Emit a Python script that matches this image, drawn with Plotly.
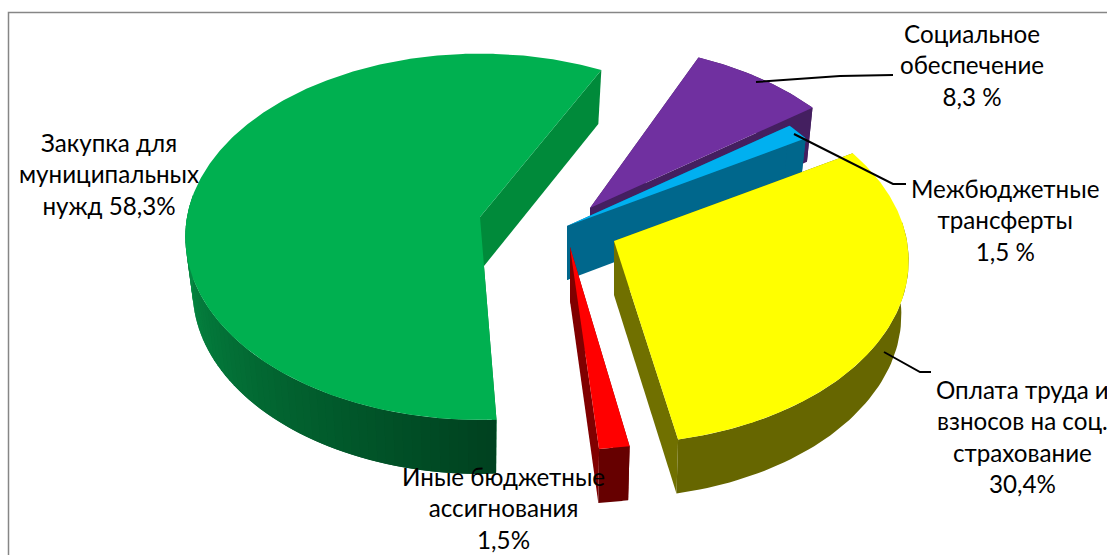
import numpy as np
import plotly.graph_objects as go

# ---- data ----
categories = ["Закупка для муниципальных нужд", "Социальное обеспечение", "Межбюджетные трансферты",
              "Оплата труда и взносов на соц. страхование", "Иные бюджетные ассигнования"]
values = [58.3, 8.3, 1.5, 30.4, 1.5]
label_texts = ["Закупка для<br>муниципальных<br>нужд 58,3%", "Социальное<br>обеспечение<br>8,3 %",
               "Межбюджетные<br>трансферты<br>1,5 %", "Оплата труда и<br>взносов на соц.<br>страхование<br>30,4%",
               "Иные бюджетные<br>ассигнования<br>1,5%"]

# ---- styling / geometry of the projected pie ----
W, H = 1107, 555
FONT = "Lato, 'Open Sans', sans-serif"
FIRST_ANGLE = 24.0          # clockwise from north, start of "Социальное обеспечение"
AX, AY, P = 293.0, 181.0, 0.108
DEPTH = 54.0
BOTTOM_SCALE = 0.975        # the lower rim is a little narrower than the upper one
PIE_CENTER = (545.0, 225.0)
PULL_X = [-65, 45, 22, 69, 25]
PULL_Y = [-8, -17, 1, 16, 22]
ANGLE_TWEAK = [3.0, 0, 0, 0, 0.8]
WALL_START = [0, 0, 0, 84, 0]
TOP = ["#00B050", "#7030A0", "#00B0F0", "#FFFF00", "#FF0000"]
WALL = ["#006A30", "#441F60", "#00678C", "#666600", "#660000"]
FACE = ["#008A3A", "#441F60", "#00678C", "#707000", "#800000"]
LABEL_X = [109, 972, 1005, 1022, 503]
LABEL_Y = [174, 65, 220, 436, 508]

shapes = [dict(type="rect", x0=8.5, y0=12.5, x1=W + 20, y1=H + 20, xref="x", yref="y",
               line=dict(color="#868686", width=1.5), fillcolor="rgba(0,0,0,0)", layer="below")]
LEADERS = [[(756, 82), (840, 76), (893, 75)], [(794, 134), (893, 184), (906, 184)],
           [(884, 352), (920, 372), (931, 372)]]
for pts in LEADERS:
    path = "M " + " L ".join(f"{x} {y}" for x, y in pts)
    shapes.append(dict(type="path", path=path, xref="x", yref="y", line=dict(color="black", width=2)))


def rim(theta_deg, apex):
    t = np.radians(theta_deg)
    u, v = np.sin(t), -np.cos(t)
    w = 1 - P * v
    return apex[0] + AX * u / w, apex[1] + AY * v / w


def low(x, y, apex):
    return apex[0] + (x - apex[0]) * BOTTOM_SCALE, y + DEPTH


fig = go.Figure()


def poly(xs, ys, color):
    xs, ys = list(xs), list(ys)
    fig.add_trace(go.Scatter(x=xs + xs[:1], y=ys + ys[:1], mode="lines", fill="toself", fillcolor=color,
                             line=dict(color=color, width=0), hoverinfo="skip", showlegend=False))


def band(theta, apex, color):
    x, y = rim(np.asarray(theta), apex)
    lx, ly = low(x, y, apex)
    poly(list(x) + list(lx[::-1]), list(y) + list(ly[::-1]), color)


def cut_face(theta, apex, color):
    rx, ry = rim(theta, apex)
    lx, ly = low(rx, ry, apex)
    poly([apex[0], rx, lx, apex[0]], [apex[1], ry, ly, apex[1] + DEPTH], color)


def mix(a, b, f):
    return "rgb(" + ",".join(str(int(a[i] + (b[i] - a[i]) * f)) for i in range(3)) + ")"


total = sum(values)
start = FIRST_ANGLE
spans = {}
order = [1, 2, 3, 4, 0]     # clockwise from FIRST_ANGLE
for idx in order:
    sweep = values[idx] / total * 360
    spans[idx] = (start + ANGLE_TWEAK[idx], start + sweep + ANGLE_TWEAK[idx])
    start += sweep

for i in [0, 1, 2, 3, 4]:
    a0, a1 = spans[i]
    apex = (PIE_CENTER[0] + PULL_X[i], PIE_CENTER[1] + PULL_Y[i])
    th = np.linspace(a0, a1, max(8, int(a1 - a0) * 2))
    rx, ry = rim(th, apex)
    cut_face(a0, apex, FACE[i])
    cut_face(a1, apex, FACE[i])
    if i == 0:
        # shaded outer wall, from the dark front end to the lit left side
        strips = np.linspace(a0, a0 + 100, 61)
        for j in range(len(strips) - 1):
            band(strips[j:min(j + 3, len(strips))], apex, mix((0, 66, 32), (6, 148, 72), j / 59))
    else:
        w0 = max(a0, WALL_START[i])
        band(np.linspace(w0, a1, 60), apex, WALL[i])
    poly([apex[0]] + list(rx), [apex[1]] + list(ry), TOP[i])

annotations = [dict(x=x, y=y, xref="x", yref="y", text=t, showarrow=False, align="center",
                    xanchor="center", yanchor="middle", font=dict(family=FONT, size=24.2, color="#000000"))
               for x, y, t in zip(LABEL_X, LABEL_Y, label_texts)]

fig.update_layout(width=W, height=H, margin=dict(l=0, r=0, t=0, b=0), paper_bgcolor="white",
                  plot_bgcolor="white", showlegend=False, shapes=shapes, annotations=annotations,
                  xaxis=dict(range=[0, W], visible=False, fixedrange=True),
                  yaxis=dict(range=[H, 0], visible=False, fixedrange=True))
fig.write_html("out.html", config=dict(displayModeBar=False),
               post_script="document.body.style.margin='0';document.documentElement.style.overflow='hidden';")
